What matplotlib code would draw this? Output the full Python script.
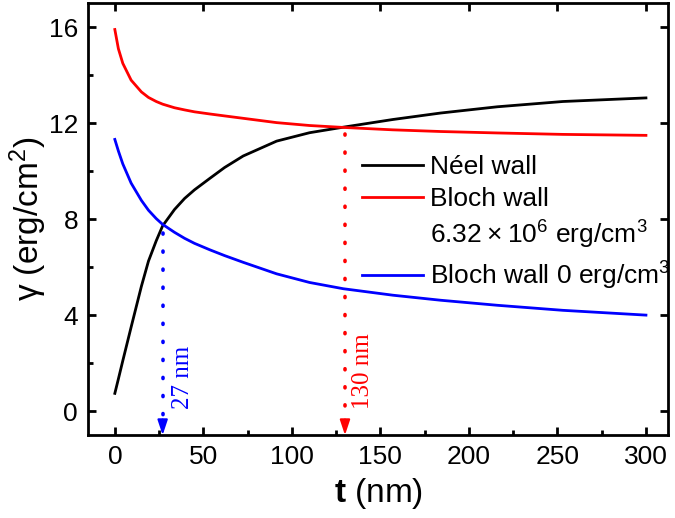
import numpy as np
import matplotlib
matplotlib.use("Agg")
import matplotlib.pyplot as plt
from matplotlib.lines import Line2D
from matplotlib.ticker import MultipleLocator

plt.rcParams['font.family'] = ['Liberation Sans', 'DejaVu Sans']
plt.rcParams['mathtext.fontset'] = 'custom'
plt.rcParams['mathtext.rm'] = 'Liberation Sans'
plt.rcParams['mathtext.it'] = 'Liberation Sans:italic'
plt.rcParams['mathtext.bf'] = 'Liberation Sans:bold'

# thickness t (nm) and wall energies (erg/cm^2)
t = [0, 2, 4.5, 9.2, 15, 19, 23.4, 27, 33.7, 39.4, 45, 53.7, 62, 72.5, 91.4,
     110, 129, 157, 184, 216, 253, 300]
neel = [0.74, 1.34, 2.1, 3.5, 5.2, 6.25, 7.1, 7.72, 8.4, 8.86, 9.22, 9.7,
        10.15, 10.63, 11.25, 11.6, 11.83, 12.15, 12.42, 12.68, 12.9, 13.05]
bloch_k = [15.9, 15.1, 14.49, 13.79, 13.3, 13.07, 12.9, 12.79, 12.64, 12.55,
           12.47, 12.38, 12.3, 12.2, 12.02, 11.9, 11.82, 11.72, 11.65, 11.59,
           11.53, 11.49]
bloch_0 = [11.32, 10.84, 10.3, 9.5, 8.78, 8.37, 8.02, 7.78, 7.45, 7.2, 6.99,
           6.72, 6.48, 6.2, 5.72, 5.36, 5.1, 4.83, 4.62, 4.41, 4.2, 4.0]

# crossing points marked with arrows
t_cross_blue = 27
t_cross_red = 130

fig = plt.figure(figsize=(6.75, 5.18), dpi=100)
ax = fig.add_axes([0.130, 0.160, 0.860, 0.834])

ax.plot(t, neel, color='black', lw=2.0, label='Néel wall')
ax.plot(t, bloch_k, color='red', lw=2.0, label='Bloch wall')
blank = Line2D([], [], color='none')
ax.plot(t, bloch_0, color='blue', lw=2.0, label='Bloch wall 0 erg/cm$^3$')

# dotted drop lines with arrow heads
for tc, col, lab, tx in [(t_cross_blue, 'blue', '27 nm', 38.5),
                         (t_cross_red, 'red', '130 nm', 140)]:
    yc = np.interp(tc, t, neel)
    ax.plot([tc, tc], [yc - 0.3, -0.4], color=col, lw=2.6, ls=(0, (0.3, 4.7)),
            dash_capstyle='round')
    ax.annotate('', xy=(tc, -1), xytext=(tc, -0.35),
                arrowprops=dict(arrowstyle='-|>,head_length=0.9,head_width=0.3',
                                color=col, lw=1.5, shrinkA=0, shrinkB=0))
    ax.text(tx, 0.1, lab, color=col, rotation=90, ha='center', va='bottom',
            fontsize=18, family=['Liberation Serif', 'DejaVu Serif'])

ax.set_xlim(-15.3, 312.6)
ax.set_ylim(-1, 17)
ax.xaxis.set_major_locator(MultipleLocator(50))
ax.xaxis.set_minor_locator(MultipleLocator(25))
ax.yaxis.set_major_locator(MultipleLocator(4))
ax.yaxis.set_minor_locator(MultipleLocator(2))
ax.tick_params(which='both', direction='in', width=2.0, labelsize=19)
ax.tick_params(which='major', length=6, pad=7)
ax.tick_params(which='minor', length=3.5)
ax.tick_params(which='major', top=True, right=True)
for s in ax.spines.values():
    s.set_linewidth(2.0)

ax.set_xlabel(r'$\mathbf{t}$ (nm)', fontsize=24, labelpad=5)
ax.set_ylabel('γ (erg/cm$^2$)', fontsize=24, labelpad=0)

h, l = ax.get_legend_handles_labels()
handles = [h[0], h[1], blank, h[2]]
labels = [l[0], l[1], '6.32\u2009×\u200910$^6$ erg/cm$^3$', l[2]]
ax.legend(handles, labels, loc='upper left', bbox_to_anchor=(0.455, 0.672),
          frameon=False, fontsize=19, handlelength=2.3, handletextpad=0.25,
          labelspacing=0.3, borderaxespad=0)

fig.savefig('out.png', dpi=100)
